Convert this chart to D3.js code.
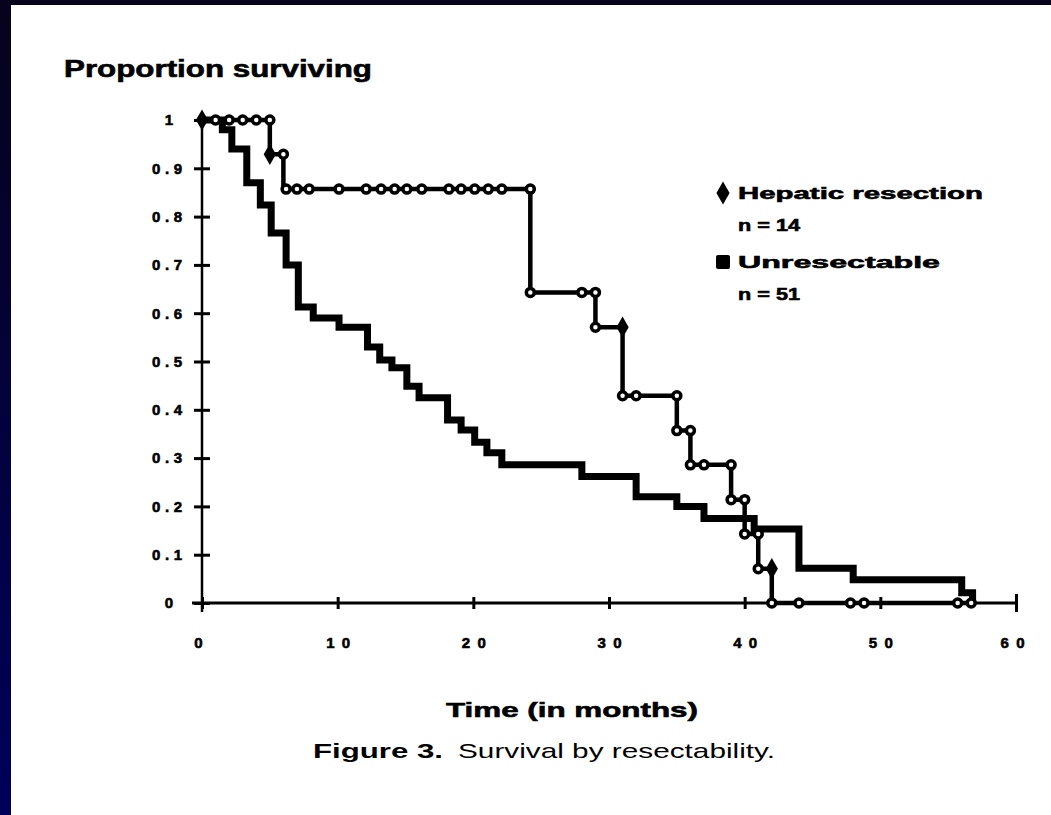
<!DOCTYPE html>
<html>
    <head>
        <meta charset="utf-8" />
        <script src="https://d3js.org/d3.v7.min.js"></script>
        <style type="text/css">
            body {
                margin: 0;
                background: #ffffff;
            }
            svg#mainSvg {
                display: block;
                width: 1051px;
                height: 815px;
                font-family: "Liberation Sans", Arial, sans-serif;
            }
            .heavy {
                font-weight: bold;
                stroke: #000;
                stroke-width: 0.6px;
            }
        </style>
    </head>

    <body>
        <svg id="mainSvg"></svg>

        <!-- The data -->
        <script type="text/javascript">
            // Hepatic resection, step curve (time in months, proportion)
            const hepTimes = [0, 5, 6, 24.2, 29, 31, 35, 36, 39, 40, 41, 42, 57];
            const hepSurv = [1, 0.929, 0.857, 0.643, 0.571, 0.429, 0.357, 0.286, 0.214, 0.143, 0.071, 0, 0];

            // Hepatic resection, open circle marks on the curve
            const hepMarkT = [1, 2, 3, 4, 5, 6, 6.2, 7, 7.9, 10.1, 12.1, 13.2, 14.2, 15.1, 16.2,
                18.2, 19.1, 20.1, 21.1, 22.1, 24.2, 24.2, 28, 29, 29, 31, 32, 35, 35, 36,
                36, 37, 39, 39, 40, 40, 41, 41, 42, 44, 47.8, 48.8, 55.7, 56.7];
            const hepMarkS = [1, 1, 1, 1, 1, 0.929, 0.857, 0.857, 0.857, 0.857, 0.857, 0.857, 0.857, 0.857, 0.857,
                0.857, 0.857, 0.857, 0.857, 0.857, 0.857, 0.643, 0.643, 0.643, 0.571, 0.429, 0.429, 0.429, 0.357, 0.357,
                0.286, 0.286, 0.286, 0.214, 0.214, 0.143, 0.143, 0.071, 0, 0, 0, 0, 0, 0];

            // Hepatic resection, filled diamond marks
            const hepDiamondT = [0, 5, 31, 42];
            const hepDiamondS = [1, 0.929, 0.571, 0.071];

            // Unresectable, step curve
            const unrTimes = [0, 1.5, 2.2, 3.3, 4.3, 5.1, 6.2, 7.1, 8.2, 10.1, 12.2, 13.1, 14, 15.1, 16,
                18.1, 19.1, 20.1, 21, 22.1, 28, 32, 35, 37, 40.7, 44, 48, 56, 56.8];
            const unrSurv = [1, 0.98, 0.94, 0.87, 0.824, 0.766, 0.7, 0.613, 0.59, 0.571, 0.53, 0.503, 0.487, 0.449, 0.425,
                0.379, 0.358, 0.333, 0.311, 0.286, 0.262, 0.22, 0.2, 0.175, 0.153, 0.072, 0.048, 0.021, 0];

            // Axes
            const xTicks = [0, 10, 20, 30, 40, 50, 60];
            const xLabels = ["0", "10", "20", "30", "40", "50", "60"];
            const yTicks = [0, 0.1, 0.2, 0.3, 0.4, 0.5, 0.6, 0.7, 0.8, 0.9, 1];
            const yLabels = ["0", "0.1", "0.2", "0.3", "0.4", "0.5", "0.6", "0.7", "0.8", "0.9", "1"];

            // Legend
            const legendNames = ["Hepatic resection", "Unresectable"];
            const legendCounts = ["n = 14", "n = 51"];
        </script>

        <!-- Draw -->
        <script type="text/javascript">
            const svg = d3.select("#mainSvg");

            // Frame: dark band on top and left
            const grad = svg.append("defs").append("linearGradient")
                .attr("id", "band").attr("x1", 0).attr("y1", 0).attr("x2", 0).attr("y2", 1);
            grad.append("stop").attr("offset", "0%").attr("stop-color", "#07031c");
            grad.append("stop").attr("offset", "100%").attr("stop-color", "#00005a");
            svg.append("rect").attr("x", 0).attr("y", 0).attr("width", 1051).attr("height", 5).attr("fill", "#07031c");
            svg.append("rect").attr("x", 0).attr("y", 0).attr("width", 11).attr("height", 815).attr("fill", "url(#band)");

            const x = d3.scaleLinear().domain([0, 60]).range([202, 1016]);
            const y = d3.scaleLinear().domain([0, 1]).range([603, 120]);

            // Y axis with cross ticks
            const yAxis = svg.append("g")
                .attr("transform", "translate(" + x(0) + ",0)")
                .call(d3.axisLeft(y).tickValues(yTicks).tickSizeOuter(0)
                    .tickFormat((d, i) => yLabels[i]));
            yAxis.select(".domain").remove();
            yAxis.append("line")
                .attr("x1", 0).attr("x2", 0)
                .attr("y1", y(1) - 2).attr("y2", y(0) + 9)
                .attr("stroke", "#000").attr("stroke-width", 2.5);
            yAxis.selectAll(".tick line")
                .attr("x1", -8).attr("x2", 8)
                .attr("stroke", "#000").attr("stroke-width", 3);
            yAxis.selectAll(".tick text")
                .attr("class", "heavy")
                .attr("font-size", 15)
                .attr("fill", "#000")
                .attr("x", (d, i) => (yLabels[i].length > 1 ? -50 : -33))
                .attr("text-anchor", (d, i) => (yLabels[i].length > 1 ? "start" : "middle"))
                .attr("textLength", (d, i) => (yLabels[i].length > 1 ? 30 : null));

            // X axis with cross ticks
            const xAxis = svg.append("g")
                .attr("transform", "translate(0," + y(0) + ")")
                .call(d3.axisBottom(x).tickValues(xTicks).tickSizeOuter(0)
                    .tickFormat((d, i) => xLabels[i]));
            xAxis.select(".domain").remove();
            xAxis.append("line")
                .attr("x1", x(0) - 10).attr("x2", x(60))
                .attr("y1", 0).attr("y2", 0)
                .attr("stroke", "#000").attr("stroke-width", 3);
            xAxis.selectAll(".tick line")
                .attr("y1", (d) => (d === 60 ? -9 : -6))
                .attr("y2", (d) => (d === 60 ? 9 : 6))
                .attr("stroke", "#000").attr("stroke-width", 3);
            xAxis.selectAll(".tick text")
                .attr("class", "heavy")
                .attr("font-size", 15)
                .attr("fill", "#000")
                .attr("x", (d, i) => (i === 0 ? -4 : i === 6 ? -4 : 0))
                .attr("y", 45)
                .attr("dy", 0)
                .attr("textLength", (d, i) => (xLabels[i].length > 1 ? 24 : null));

            // Step lines
            const step = d3.line()
                .x((d) => x(d[0]))
                .y((d) => y(d[1]))
                .curve(d3.curveStepAfter);

            svg.append("path")
                .datum(d3.zip(unrTimes, unrSurv))
                .attr("d", step)
                .attr("fill", "none")
                .attr("stroke", "#000")
                .attr("stroke-width", 7)
                .attr("stroke-linejoin", "miter");

            svg.append("path")
                .datum(d3.zip(hepTimes, hepSurv))
                .attr("d", step)
                .attr("fill", "none")
                .attr("stroke", "#000")
                .attr("stroke-width", 4.5)
                .attr("stroke-linejoin", "miter");

            // Marks on the hepatic curve
            svg.append("g")
                .selectAll("circle")
                .data(d3.zip(hepMarkT, hepMarkS))
                .enter()
                .append("circle")
                .attr("cx", (d) => x(d[0]))
                .attr("cy", (d) => y(d[1]))
                .attr("r", 4)
                .attr("fill", "#fff")
                .attr("stroke", "#000")
                .attr("stroke-width", 3.5);

            svg.append("g")
                .selectAll("path")
                .data(d3.zip(hepDiamondT, hepDiamondS))
                .enter()
                .append("path")
                .attr("d", d3.symbol(d3.symbolDiamond, 130))
                .attr("transform", (d) => "translate(" + x(d[0]) + "," + y(d[1]) + ")")
                .attr("fill", "#000");

            // Legend
            const lg = svg.append("g");
            lg.append("path")
                .attr("d", d3.symbol(d3.symbolDiamond, 150))
                .attr("transform", "translate(723,193)")
                .attr("fill", "#000");
            lg.append("rect")
                .attr("x", 716).attr("y", 255).attr("width", 14).attr("height", 14)
                .attr("rx", 2)
                .attr("fill", "#000");
            lg.selectAll("text.name")
                .data(legendNames)
                .enter()
                .append("text")
                .attr("class", "heavy")
                .attr("x", 738)
                .attr("y", (d, i) => 199 + i * 69)
                .attr("font-size", 17)
                .attr("textLength", (d, i) => (i === 0 ? 245 : 202))
                .attr("lengthAdjust", "spacingAndGlyphs")
                .text((d) => d);
            lg.selectAll("text.count")
                .data(legendCounts)
                .enter()
                .append("text")
                .attr("class", "heavy")
                .attr("x", 738)
                .attr("y", (d, i) => 231 + i * 69)
                .attr("font-size", 17)
                .attr("textLength", 62)
                .attr("lengthAdjust", "spacingAndGlyphs")
                .text((d) => d);

            // Titles
            svg.append("text")
                .attr("class", "heavy")
                .attr("x", 64)
                .attr("y", 77)
                .attr("font-size", 23)
                .attr("textLength", 308)
                .attr("lengthAdjust", "spacingAndGlyphs")
                .text("Proportion surviving");

            svg.append("text")
                .attr("class", "heavy")
                .attr("x", 446)
                .attr("y", 717)
                .attr("font-size", 21)
                .attr("textLength", 252)
                .attr("lengthAdjust", "spacingAndGlyphs")
                .text("Time (in months)");

            svg.append("text")
                .attr("x", 313)
                .attr("y", 758)
                .attr("font-weight", "bold")
                .attr("font-size", 21)
                .attr("textLength", 130)
                .attr("lengthAdjust", "spacingAndGlyphs")
                .text("Figure 3.");

            svg.append("text")
                .attr("x", 458)
                .attr("y", 758)
                .attr("font-size", 21)
                .attr("textLength", 317)
                .attr("lengthAdjust", "spacingAndGlyphs")
                .text("Survival by resectability.");
        </script>
    </body>
</html>
